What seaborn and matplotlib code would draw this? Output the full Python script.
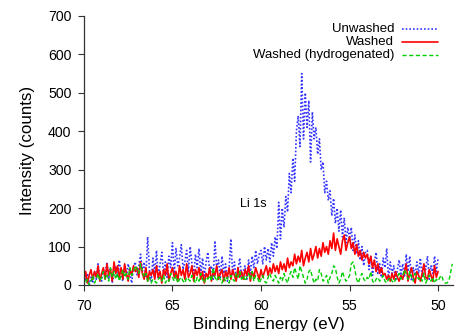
import numpy as np
import pandas as pd
import matplotlib
matplotlib.use("Agg")
import matplotlib.pyplot as plt
from matplotlib.lines import Line2D
import seaborn as sns

# Binding energy grid (eV), 0.1 eV steps, high to low
energy_main = np.round(np.arange(700, 499, -1) / 10.0, 1)   # 70.0 ... 50.0
energy_hyd = np.round(np.arange(700, 491, -1) / 10.0, 1)    # 70.0 ... 49.2

unwashed = [
    45, 10, 30, 0, 20, 5, 35, 15, 55, 20,
    10, 40, 25, 60, 15, 45, 5, 30, 50, 20,
    65, 25, 10, 40, 20, 55, 30, 5, 45, 60,
    25, 50, 80, 35, 60, 20, 125, 40, 10, 70,
    30, 90, 15, 55, 85, 25, 60, 20, 75, 45,
    110, 30, 95, 50, 70, 105, 40, 60, 90, 35,
    100, 55, 25, 80, 45, 95, 30, 70, 20, 60,
    85, 35, 50, 15, 115, 40, 65, 20, 75, 30,
    55, 10, 45, 120, 25, 60, 15, 40, 70, 20,
    35, 50, 15, 65, 30, 75, 45, 90, 55, 80,
    90, 55, 100, 65, 95, 60, 110, 75, 125, 95,
    215, 120, 200, 150, 230, 190, 290, 240, 330, 270,
    400, 440, 360, 550, 380, 500, 410, 480, 320, 450,
    380, 410, 340, 380, 300, 320, 240, 270, 220, 245,
    180, 225, 160, 200, 140, 195, 125, 175, 110, 150,
    120, 150, 90, 130, 80, 115, 65, 100, 50, 85,
    90, 40, 75, 25, 60, 85, 30, 55, 20, 70,
    45, 95, 15, 60, 30, 50, 10, 40, 65, 25,
    55, 20, 80, 35, 75, 10, 45, 25, 60, 30,
    70, 20, 55, 40, 75, 15, 50, 30, 75, 35,
    70,
]

washed = [
    10, 35, 5, 25, 40, 15, 35, 20, 50, 10,
    30, 45, 15, 55, 25, 40, 10, 60, 30, 50,
    20, 45, 15, 55, 30, 10, 40, 25, 50, 35,
    45, 20, 60, 30, 15, 45, 10, 35, 25, 40,
    15, 50, 20, 35, 5, 40, 25, 55, 10, 30,
    45, 20, 35, 10, 50, 25, 40, 15, 55, 20,
    30, 50, 10, 40, 25, 45, 15, 35, 5, 30,
    20, 45, 10, 35, 25, 50, 15, 30, 40, 10,
    35, 20, 45, 15, 40, 25, 10, 45, 20, 35,
    15, 40, 25, 50, 10, 35, 20, 45, 30, 15,
    40, 20, 35, 50, 25, 45, 30, 55, 35, 50,
    30, 60, 40, 55, 35, 70, 45, 60, 50, 80,
    55, 75, 60, 90, 50, 70, 85, 60, 95, 65,
    80, 100, 70, 95, 75, 110, 85, 100, 80, 115,
    95, 135, 90, 120, 100, 80, 115, 130, 90, 110,
    125, 95, 110, 80, 105, 75, 90, 65, 85, 70,
    80, 55, 75, 45, 65, 35, 55, 30, 45, 25,
    30, 15, 25, 10, 30, 15, 35, 20, 10, 25,
    15, 35, 55, 10, 30, 45, 20, 5, 35, 25,
    10, 30, 55, 20, 15, 40, 25, 10, 50, 20,
    35,
]

hydrogenated = [
    20, 5, 15, 0, 10, 25, 5, 15, 30, 10,
    20, 35, 15, 25, 10, 45, 20, 35, 15, 30,
    10, 25, 40, 20, 30, 15, 45, 25, 35, 50,
    40, 30, 55, 35, 20, 30, 10, 20, 5, 15,
    10, 5, 15, 20, 10, 25, 5, 15, 10, 30,
    20, 10, 25, 5, 15, 20, 10, 5, 20, 15,
    10, 25, 15, 5, 20, 10, 30, 15, 5, 20,
    15, 25, 10, 45, 20, 10, 25, 15, 5, 20,
    10, 20, 5, 25, 15, 10, 30, 20, 35, 15,
    25, 10, 20, 30, 15, 35, 10, 25, 20, 5,
    15, 25, 10, 5, 20, 30, 15, 10, 25, 15,
    5, 20, 10, 30, 15, 5, 25, 35, 20, 45,
    30, 15, 50, 35, 20, 5, 15, 35, 40, 20,
    5, 15, 10, 40, 30, 10, 15, 25, 5, 20,
    30, 50, 45, 20, 5, 15, 35, 20, 10, 15,
    25, 55, 60, 40, 15, 5, 20, 30, 15, 10,
    20, 15, 35, 10, 5, 15, 20, 10, 15, 25,
    10, 5, 15, 20, 10, 5, 15, 20, 30, 15,
    25, 40, 30, 15, 35, 20, 10, 30, 25, 15,
    20, 10, 30, 5, 15, 25, 10, 20, 5, 15,
    10, 20, 25, 10, 5, 5, 10, 30, 55,
]

series_names = ["Unwashed", "Washed", "Washed (hydrogenated)"]
series_colors = ["#3535ff", "#ff0000", "#00d000"]
series_styles = [(0, (1, 1.2)), "-", (0, (3, 1.8))]
series_widths = [1.2, 1.2, 1.0]

df_main = pd.DataFrame({"energy": energy_main, "Unwashed": unwashed, "Washed": washed})
df_hyd = pd.DataFrame({"energy": energy_hyd, "Washed (hydrogenated)": hydrogenated})

sns.set_style("ticks")
plt.rcParams["font.family"] = ["Liberation Sans", "DejaVu Sans"]
plt.rcParams.update({"text.color": "black", "axes.labelcolor": "black",
                     "xtick.labelcolor": "black", "ytick.labelcolor": "black"})

fig = plt.figure(figsize=(4.74, 3.31), dpi=100)
ax = fig.add_axes([0.177, 0.139, 0.779, 0.813])

frames = [df_main, df_main, df_hyd]
for name, color, style, lw, frame in zip(series_names, series_colors, series_styles,
                                         series_widths, frames):
    sns.lineplot(data=frame, x="energy", y=name, ax=ax, color=color,
                 linewidth=lw, linestyle=style, legend=False,
                 estimator=None, sort=False)

ax.set_xlim(70, 49.15)
ax.set_ylim(0, 700)
ax.set_xticks([70, 65, 60, 55, 50])
ax.set_yticks(range(0, 701, 100))
ax.set_xlabel("Binding Energy (eV)", fontsize=12.2, labelpad=3, color="black")
ax.set_ylabel("Intensity (counts)", fontsize=12.2, labelpad=9, color="black")
ax.tick_params(axis="both", labelsize=10.2, length=4, width=0.8, color="#333333",
               labelcolor="black", direction="out")
ax.tick_params(axis="x", pad=6)
ax.tick_params(axis="y", pad=5)
for side in ["top", "right"]:
    ax.spines[side].set_visible(False)
for side in ["left", "bottom"]:
    ax.spines[side].set_linewidth(0.9)
    ax.spines[side].set_color("#333333")

ax.text(61.2, 210, "Li 1s", fontsize=9, ha="left", va="center", color="black")

# Key in the upper right: labels right-aligned, sample lines to their right
row_y = [0.953, 0.903, 0.854]
for name, color, style, lw, y in zip(series_names, series_colors, series_styles,
                                     series_widths, row_y):
    ax.text(0.840, y, name, transform=ax.transAxes, fontsize=9.5,
            ha="right", va="center", color="black")
    ax.add_line(Line2D([0.862, 0.959], [y, y], transform=ax.transAxes,
                       color=color, linewidth=lw, linestyle=style))

fig.savefig("out.png", dpi=100)
